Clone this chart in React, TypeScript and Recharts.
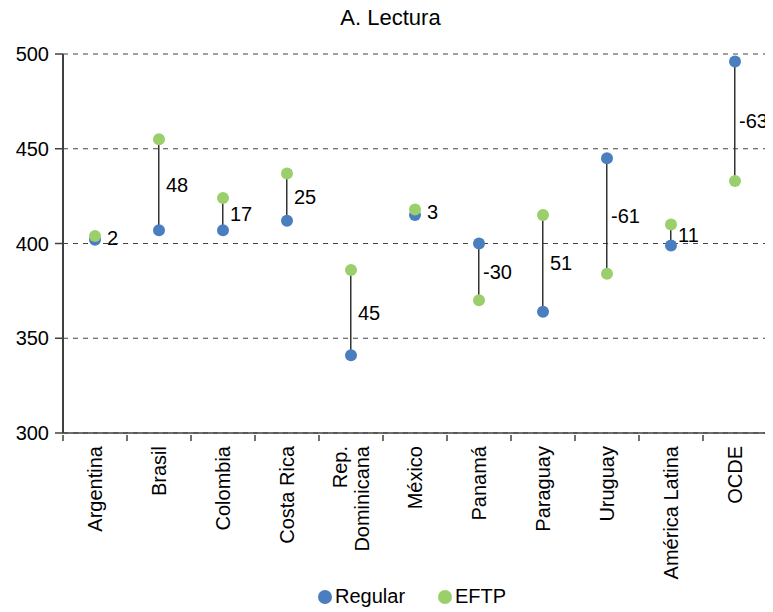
import React from 'react';
import {
  ComposedChart,
  Bar,
  Line,
  XAxis,
  YAxis,
  CartesianGrid,
  Legend,
  LabelList,
} from 'recharts';

const categories = [
  'Argentina',
  'Brasil',
  'Colombia',
  'Costa Rica',
  'Rep. Dominicana',
  'México',
  'Panamá',
  'Paraguay',
  'Uruguay',
  'América Latina',
  'OCDE',
];
const regular = [402, 407, 407, 412, 341, 415, 400, 364, 445, 399, 496];
const eftp = [404, 455, 424, 437, 386, 418, 370, 415, 384, 410, 433];
const diffLabels = [2, 48, 17, 25, 45, 3, -30, 51, -61, 11, -63];
const yTicks = [300, 350, 400, 450, 500];

const BLUE = '#4A7EBF';
const GREEN = '#9BCF6C';
const AXIS = '#404040';
const FONT = '"Liberation Sans", Arial, sans-serif';

const W = 765;
const H = 604;
const MARGIN = { top: 46, right: 6, left: 0, bottom: 0 };
const Y_W = 55;
const PLOT_W = W - MARGIN.left - MARGIN.right - Y_W;

const data = categories.map((name, i) => ({
  name,
  regular: regular[i],
  eftp: eftp[i],
  range: [Math.min(regular[i], eftp[i]), Math.max(regular[i], eftp[i])],
  mid: (regular[i] + eftp[i]) / 2,
  diff: diffLabels[i],
}));

const XTick = (props: any) => {
  const { x, y, payload } = props;
  const index = props.index ?? payload.index;
  const band = PLOT_W / categories.length;
  const lines =
    payload.value === 'Rep. Dominicana' ? ['Rep.', 'Dominicana'] : [payload.value];
  return (
    <g>
      <line x1={x - band / 2} x2={x - band / 2} y1={y} y2={y + 6} stroke={AXIS} strokeWidth={1.5} />
      {index === categories.length - 1 && (
        <line x1={x + band / 2} x2={x + band / 2} y1={y} y2={y + 6} stroke={AXIS} strokeWidth={1.5} />
      )}
      <text
        transform={`translate(${x},${y + 11}) rotate(-90)`}
        textAnchor="end"
        fontSize={20}
        fontFamily={FONT}
        fill="#000"
      >
        {lines.map((l, i) => (
          <tspan
            key={i}
            x={0}
            y={(i - (lines.length - 1) / 2) * 22}
            dominantBaseline="central"
          >
            {l}
          </tspan>
        ))}
      </text>
    </g>
  );
};

const DiffLabel = (props: any) => {
  const { x, y, index } = props;
  const d = diffLabels[index];
  const gap = Math.abs(d) < 6 ? 12 : d < 0 ? 4 : 7;
  return (
    <text
      x={x + gap}
      y={y}
      dominantBaseline="central"
      fontSize={20}
      fontFamily={FONT}
      fill="#000"
    >
      {d}
    </text>
  );
};

const LegendContent = () => (
  <div
    style={{
      position: 'relative',
      width: W,
      height: 34,
      fontFamily: FONT,
      fontSize: 20,
      color: '#000',
    }}
  >
    <div style={{ position: 'absolute', left: 310, top: 7, display: 'flex', alignItems: 'center' }}>
      <span style={{ width: 14, height: 14, borderRadius: 7, background: BLUE, display: 'inline-block', marginRight: 3 }} />
      <span>Regular</span>
    </div>
    <div style={{ position: 'absolute', left: 430, top: 7, display: 'flex', alignItems: 'center' }}>
      <span style={{ width: 14, height: 14, borderRadius: 7, background: GREEN, display: 'inline-block', marginRight: 3 }} />
      <span>EFTP</span>
    </div>
  </div>
);

export default function App() {
  return (
    <div style={{ position: 'relative', width: W, height: H, fontFamily: FONT }}>
      <div
        style={{
          position: 'absolute',
          top: 0,
          left: 0,
          width: W,
          textAlign: 'center',
          fontSize: 22,
          lineHeight: '20px',
          color: '#000',
        }}
      >
        A. Lectura
      </div>
      <ComposedChart width={W} height={H} data={data} margin={MARGIN}>
        <CartesianGrid vertical={false} stroke="#444" strokeDasharray="5 5" />
        <XAxis
          dataKey="name"
          interval={0}
          height={145}
          tickSize={0}
          tickLine={false}
          axisLine={{ stroke: AXIS, strokeWidth: 1.5 }}
          tick={<XTick />}
        />
        <YAxis
          domain={[300, 500]}
          ticks={yTicks}
          width={Y_W}
          tickSize={8}
          tickMargin={6}
          tick={{ fontSize: 20, fill: '#000', fontFamily: FONT }}
          tickLine={{ stroke: AXIS, strokeWidth: 1.5 }}
          axisLine={{ stroke: AXIS, strokeWidth: 2 }}
        />
        <Bar dataKey="range" barSize={1.5} fill="#333" isAnimationActive={false} legendType="none" />
        <Line
          dataKey="mid"
          stroke="none"
          dot={false}
          activeDot={false}
          legendType="none"
          isAnimationActive={false}
        >
          <LabelList dataKey="diff" content={<DiffLabel />} />
        </Line>
        <Line
          dataKey="regular"
          stroke="none"
          dot={{ r: 6, fill: BLUE, stroke: 'none' }}
          activeDot={false}
          isAnimationActive={false}
        />
        <Line
          dataKey="eftp"
          stroke="none"
          dot={{ r: 6, fill: GREEN, stroke: 'none' }}
          activeDot={false}
          isAnimationActive={false}
        />
        <Legend
          verticalAlign="bottom"
          wrapperStyle={{ left: 0, width: W, height: 34 }}
          content={<LegendContent />}
        />
      </ComposedChart>
    </div>
  );
}
